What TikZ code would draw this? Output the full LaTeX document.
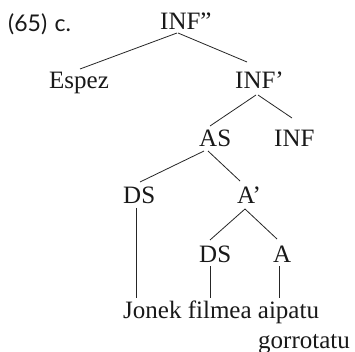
\documentclass[tikz,border=0pt]{standalone}
\usepackage{fontspec}
\setmainfont{Liberation Serif}
\newfontfamily\labelfont{Lato}
\usetikzlibrary{calc}
\begin{document}
\begin{tikzpicture}[x=1pt,y=-1pt,
  cat/.style={inner sep=0pt, anchor=base west, text=black!90,
    font=\fontsize{25}{30}\selectfont},
  exlabel/.style={inner sep=0pt, anchor=base west, text=black!90,
    font=\labelfont\fontsize{23}{27}\selectfont},
  branch/.style={line width=0.8pt, draw=black!85}]
\fill[white] (0,0) rectangle (355,352);
\useasboundingbox (0,0) rectangle (355,352);

% example number
\node[exlabel] (ex) at (8,32) {(65)\hspace{1.5pt} c.};

% categories
\node[cat] (inf2)  at (160,30)  {INF”};
\node[cat] (espez) at (49,89)   {Espez};
\node[cat] (inf1)  at (235,89)  {INF’};
\node[cat] (as)    at (199,147) {AS};
\node[cat] (inf)   at (274,147) {INF};
\node[cat] (ds1)   at (123,204) {DS};
\node[cat] (abar)  at (237,204) {A’};
\node[cat] (ds2)   at (199,262) {DS};
\node[cat] (a)     at (273,262) {A};

% terminal string
\node[cat] (words) at (123,318) {Jonek filmea aipatu};
\node[cat] (gorr)  at (258,348) {gorrotatu};

% branches
\draw[branch] ($(inf2.base west)+(17,3)$)  -- ($(espez.base west)+(31,-20)$);
\draw[branch] ($(inf2.base west)+(18,3)$)  -- ($(inf1.base west)+(12,-27)$);
\draw[branch] ($(inf1.base west)+(21,6)$)  -- ($(as.base west)+(11,-21)$);
\draw[branch] ($(inf1.base west)+(23,6)$)  -- ($(inf.base west)+(18,-29)$);
\draw[branch] ($(as.base west)+(5,4)$)     -- ($(ds1.base west)+(17,-22)$);
\draw[branch] ($(as.base west)+(9,4)$)     -- ($(abar.base west)+(3,-23)$);
\draw[branch] ($(ds1.base west)+(13,4)$)   -- ($(words.base west)+(13,-20)$);
\draw[branch] ($(abar.base west)+(8,5)$)   -- ($(ds2.base west)+(11,-22)$);
\draw[branch] ($(abar.base west)+(8,5)$)   -- ($(a.base west)+(4,-23)$);
\draw[branch] ($(ds2.base west)+(11,4)$)   -- ($(words.base west)+(87,-20)$);
\draw[branch] ($(a.base west)+(6,4)$)      -- ($(words.base west)+(156,-20)$);
\end{tikzpicture}
\end{document}
